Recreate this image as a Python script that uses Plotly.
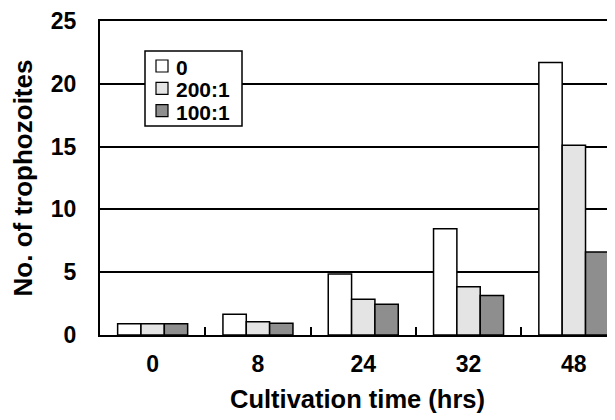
import plotly.graph_objects as go

categories = ["0", "8", "24", "32", "48"]
series_names = ["0", "200:1", "100:1"]
vals_0 = [0.9, 1.65, 4.85, 8.45, 21.7]
vals_200 = [0.9, 1.05, 2.85, 3.85, 15.1]
vals_100 = [0.9, 0.93, 2.45, 3.15, 6.6]
colors = ["#FFFFFF", "#E4E4E4", "#8E8E8E"]
y_ticks = [0, 5, 10, 15, 20, 25]

FONT = "Liberation Sans, Arial, sans-serif"
OFF = 8  # page body margin
W, H = 607, 412
L, T = 92, 13
B = H - (335 - OFF)
PW, PH = W - L, H - T - B

fig = go.Figure()
for name, vals, col in zip(series_names, [vals_0, vals_200, vals_100], colors):
    fig.add_trace(go.Bar(
        x=categories, y=vals, name=name,
        marker=dict(color=col, line=dict(color="black", width=1.5)),
    ))

fig.update_layout(
    width=W, height=H,
    margin=dict(l=L, r=0, t=T, b=B),
    paper_bgcolor="white", plot_bgcolor="white",
    barmode="group", bargap=0.335, bargroupgap=0,
    font=dict(family=FONT, size=22, color="black", weight="bold"),
    showlegend=False,
)

# manual legend box (screen pixel -> paper coords)
def px(xs):
    return (xs - OFF - L) / PW

def py(ys):
    return (H - B - (ys - OFF)) / PH

fig.add_shape(type="rect", xref="paper", yref="paper",
              x0=px(145), x1=px(242), y0=py(126), y1=py(51),
              line=dict(color="black", width=1.5), fillcolor="white", layer="above")
for i, (name, col) in enumerate(zip(series_names, colors)):
    cy = 66 + i * 22.3
    fig.add_shape(type="rect", xref="paper", yref="paper",
                  x0=px(156), x1=px(168), y0=py(cy + 6), y1=py(cy - 6),
                  line=dict(color="black", width=1.2), fillcolor=col, layer="above")
    fig.add_annotation(text=name, xref="paper", yref="paper",
                       x=px(174), y=py(cy + 1), xanchor="left", yanchor="middle",
                       showarrow=False, height=20,
                       font=dict(family=FONT, size=21, color="black", weight="bold"))

fig.update_xaxes(
    type="category", range=[-0.5, -0.5 + PW / 105.3],
    automargin=False,
    showline=True, linecolor="black", linewidth=2, mirror=True,
    ticks="inside", tickson="boundaries", ticklen=8, tickwidth=1.5, tickcolor="black",
    ticklabelstandoff=7,
    showgrid=False,
    title=dict(text="Cultivation time (hrs)", standoff=15,
               font=dict(family=FONT, size=25.5, color="black", weight="bold")),
    tickfont=dict(family=FONT, size=23, color="black", weight="bold"),
)
fig.update_yaxes(
    range=[0, 25], tickvals=y_ticks,
    automargin=False,
    showline=True, linecolor="black", linewidth=2, mirror=False,
    showgrid=True, gridcolor="black", gridwidth=1.5,
    ticks="", ticklabelstandoff=17,
    zeroline=False,
    title=dict(text="No. of trophozoites", standoff=24,
               font=dict(family=FONT, size=26, color="black", weight="bold")),
    tickfont=dict(family=FONT, size=23, color="black", weight="bold"),
)

fig.write_html("out.html")
